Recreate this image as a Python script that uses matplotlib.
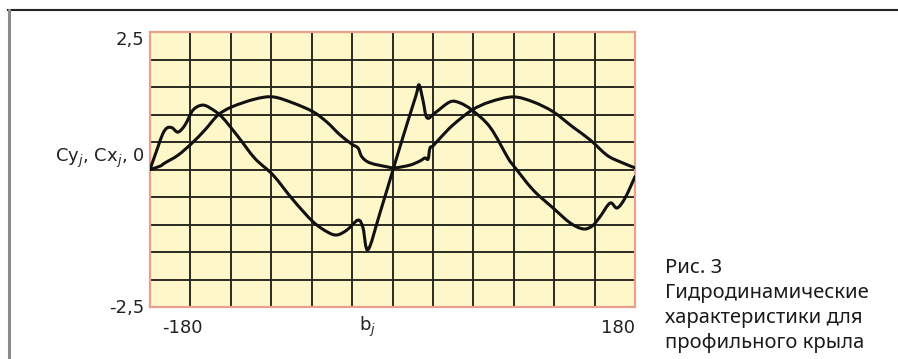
import matplotlib.pyplot as plt
from matplotlib.lines import Line2D
from matplotlib.path import Path
from matplotlib.patches import PathPatch

# angle b_j (degrees) and coefficient values
cy_angle = [-180, -174.1, -170.5, -167.4, -163.7, -159.2, -154.0, -148.1, -141.4, -135.5,
            -126.6, -114.7, -102.1, -88.7, -73.9, -59.0, -48.0, -41.2, -33.8, -25.6,
            -21.9, -18.2, -9.3, 1.9, 10.8, 17.5, 19.7, 22.6, 25.6, 31.6, 42.7, 50.1,
            59.0, 72.4, 85.7, 89.5, 104.3, 119.2, 131.8, 141.4, 148.1, 154.0, 161.5,
            166.7, 172.6, 180]
cy_value = [0.0, 0.41, 0.65, 0.755, 0.76, 0.68, 0.81, 1.08, 1.17, 1.12,
            0.955, 0.60, 0.20, -0.10, -0.55, -0.95, -1.14, -1.19, -1.10, -0.92,
            -1.06, -1.46, -0.79, 0.118, 0.83, 1.35, 1.54, 1.26, 0.94, 1.03, 1.23, 1.21,
            1.08, 0.77, 0.21, 0.08, -0.37, -0.70, -0.97, -1.08, -1.03, -0.86, -0.61,
            -0.70, -0.52, -0.13]

cx_angle = [-180, -172.6, -168.9, -159.2, -148.8, -139.2, -129.5, -119.1, -102.1, -88.7,
            -73.9, -59.0, -48.6, -39.0, -30.1, -25.6, -22.7, -16.7, -3.3, 1.9,
            13.0, 20.4, 24.1, 26.4, 27.8, 30.1, 35.3, 44.9, 59.0, 72.4, 89.5, 104.3,
            119.2, 134.0, 146.6, 159.2, 168.9, 180]
cx_value = [0.0, 0.06, 0.12, 0.26, 0.48, 0.72, 0.99, 1.14, 1.28, 1.32,
            1.21, 1.05, 0.86, 0.63, 0.46, 0.39, 0.23, 0.12, 0.045, 0.03,
            0.08, 0.155, 0.21, 0.19, 0.39, 0.43, 0.57, 0.81, 1.08, 1.23, 1.32, 1.23,
            1.05, 0.77, 0.54, 0.26, 0.14, 0.03]

caption = "Рис. 3\nГидродинамические\nхарактеристики для\nпрофильного крыла"


def smooth_path(xs, ys):
    # Catmull-Rom through the read points, drawn as cubic bezier segments
    pts = list(zip(xs, ys))
    verts = [pts[0]]
    codes = [Path.MOVETO]
    for i in range(len(pts) - 1):
        p0 = pts[i - 1] if i > 0 else pts[i]
        p1, p2 = pts[i], pts[i + 1]
        p3 = pts[i + 2] if i + 2 < len(pts) else pts[i + 1]
        c1 = (p1[0] + (p2[0] - p0[0]) / 6, p1[1] + (p2[1] - p0[1]) / 6)
        c2 = (p2[0] - (p3[0] - p1[0]) / 6, p2[1] - (p3[1] - p1[1]) / 6)
        verts += [c1, c2, p2]
        codes += [Path.CURVE4] * 3
    return Path(verts, codes)


fig = plt.figure(figsize=(8.98, 3.59), dpi=100)
ax = fig.add_axes([150 / 898, 52 / 359, 485 / 898, 275 / 359])

ax.set_facecolor('#fef7c9')
ax.set_xlim(-180, 180)
ax.set_ylim(-2.5, 2.5)
ax.set_xticks(range(-180, 181, 30))
ax.set_yticks([i * 0.5 - 2.5 for i in range(11)])
ax.grid(True, color='#2b2a22', linewidth=1.4)
ax.set_axisbelow(True)
ax.tick_params(length=0, labelbottom=False, labelleft=False)
for s in ax.spines.values():
    s.set_color('#e9a08c')
    s.set_linewidth(1.6)

for xs, ys in [(cy_angle, cy_value), (cx_angle, cx_value)]:
    ax.add_patch(PathPatch(smooth_path(xs, ys), fill=False, edgecolor='#111111',
                           lw=2.2, joinstyle='round', capstyle='round', zorder=3))

# axis texts placed like the printed figure
num = dict(transform=ax.transAxes, fontsize=13, color='#222222', family='DejaVu Sans')
ax.text(-0.011, 0.971, '2,5', ha='right', va='center', **num)
ax.text(-0.011, 0.542, 'Cy$_j$, Cx$_j$, 0', ha='right', va='center', **num)
ax.text(-0.011, -0.004, '-2,5', ha='right', va='center', **num)
ax.text(0.066, -0.076, '-180', ha='center', va='center', **num)
ax.text(0.964, -0.076, '180', ha='center', va='center', **num)
ax.text(0.449, -0.073, 'b$_j$', ha='center', va='center', **num)

fig.text(665 / 898, 1 - 258 / 359, caption, ha='left', va='top', fontsize=14.5,
         linespacing=1.33, color='#1a1a1a', family='Noto Sans')

# outer frame (top and left only)
fig.add_artist(Line2D([8 / 898, 1], [1 - 10 / 359] * 2, color='#222222', lw=1.5))
fig.add_artist(Line2D([9 / 898] * 2, [0, 1 - 10 / 359], color='#8a8a8a', lw=2.2))

fig.savefig('out.png', dpi=100)
